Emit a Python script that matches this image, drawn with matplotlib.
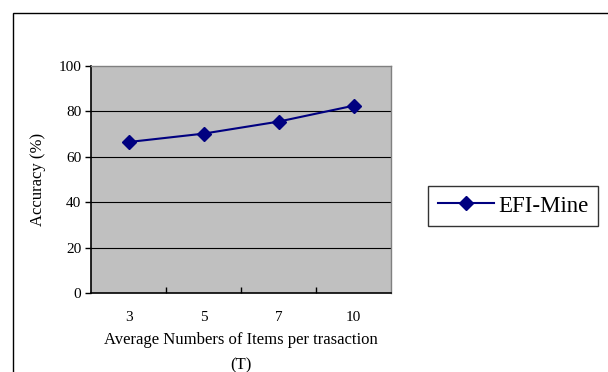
import matplotlib
matplotlib.use("Agg")
import matplotlib.pyplot as plt
from matplotlib.patches import Rectangle

plt.rcParams['font.family'] = ['Liberation Serif', 'DejaVu Serif']

# data
categories = ["3", "5", "7", "10"]
accuracy = [66.5, 70.2, 75.5, 82.5]
yticks = [0, 20, 40, 60, 80, 100]

fig = plt.figure(figsize=(6.08, 3.72), dpi=100)
ax = fig.add_axes([91/608, 1 - 293/372, 300/608, 227/372])

# outer chart border (runs off the right/bottom edge like the reference)
fig.patches.append(Rectangle((13/608, -0.1), 1.0, 1 - 13/372 + 0.1,
                             transform=fig.transFigure, fill=False,
                             edgecolor="black", linewidth=1.0, zorder=0))

xs = list(range(len(categories)))
ax.plot(xs, accuracy, color="#000080", linewidth=1.5, marker="D",
        markersize=7.5, markerfacecolor="#000080", markeredgecolor="#000080",
        label="EFI-Mine", zorder=3)

ax.set_facecolor("#c0c0c0")
ax.set_xlim(-0.5, len(categories) - 0.5)
ax.set_ylim(0, 100)
ax.set_yticks(yticks)
ax.set_yticklabels([str(v) for v in yticks], fontsize=11)
for v in yticks[1:-1]:
    ax.axhline(v, color="black", linewidth=0.8, zorder=1)

# category labels centred, tick marks between categories
ax.set_xticks(xs)
ax.set_xticklabels(categories, fontsize=11)
ax.tick_params(axis="x", which="major", length=0, pad=13)
ax.set_xticks([i + 0.5 for i in xs[:-1]], minor=True)
ax.tick_params(axis="x", which="minor", direction="in", length=4, width=1)
ax.tick_params(axis="y", direction="out", length=4, width=1, pad=3)

for side in ["top", "right"]:
    ax.spines[side].set_color("#808080")
    ax.spines[side].set_linewidth(1.0)
for side in ["left", "bottom"]:
    ax.spines[side].set_color("black")
    ax.spines[side].set_linewidth(1.2)

ax.set_ylabel("Accuracy (%)", fontsize=12, labelpad=9)
ax.set_xlabel("Average Numbers of Items per trasaction\n(T)", fontsize=12,
              labelpad=6, linespacing=1.75)

leg = fig.legend(loc="center", bbox_to_anchor=(513/608, 1 - 206/372),
                 fontsize=16.5, frameon=True, fancybox=False,
                 handlelength=2.45, borderpad=0.4, handletextpad=0.2,
                 borderaxespad=0)
leg.get_frame().set_edgecolor("black")
leg.get_frame().set_linewidth(1.0)

fig.savefig("out.png", dpi=100)
